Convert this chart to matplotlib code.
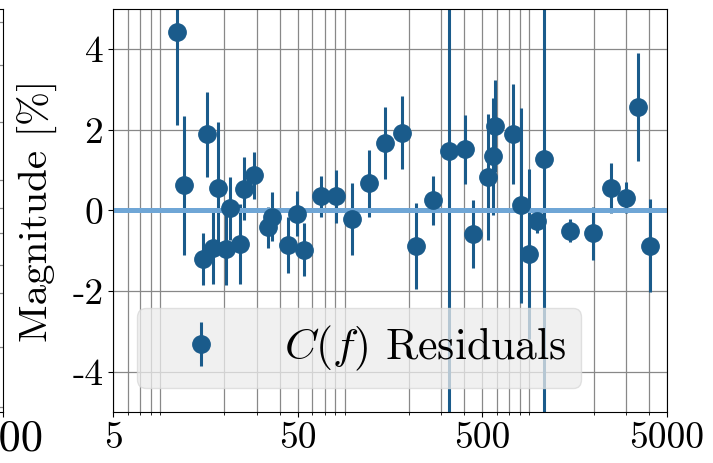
import matplotlib
matplotlib.use("Agg")
import matplotlib.pyplot as plt
from matplotlib.transforms import ScaledTranslation

plt.rcParams["font.family"] = "serif"
plt.rcParams["font.serif"] = ["cmr10", "DejaVu Serif"]
plt.rcParams["mathtext.fontset"] = "cm"
plt.rcParams["axes.unicode_minus"] = False
plt.rcParams["axes.formatter.use_mathtext"] = True

# Residual data (frequency, residual in %, 1-sigma error)
freq = [11.1, 12.1, 15.3, 16.2, 17.5, 18.4, 20.5, 21.5, 24.4, 25.6, 29.0,
        34.7, 36.1, 44.2, 49.8, 54.1, 66.6, 80.4, 98.1, 122, 149, 184, 219,
        269, 330, 403, 447, 538, 569, 587, 729, 807, 891, 993, 1083, 1493,
        1995, 2478, 3000, 3500, 4045]
resid = [4.42, 0.62, -1.21, 1.89, -0.92, 0.56, -0.96, 0.05, -0.83, 0.54,
         0.875, -0.42, -0.15, -0.85, -0.08, -0.97, 0.35, 0.35, -0.21, 0.67,
         1.68, 1.93, -0.88, 0.25, 1.48, 1.52, -0.59, 0.83, 1.34, 2.1, 1.9,
         0.125, -1.08, -0.25, 1.27, -0.5, -0.57, 0.56, 0.32, 2.57, -0.875]
err = [2.3, 1.73, 0.65, 1.05, 0.9, 1.63, 0.88, 0.78, 1.0, 0.78, 0.58, 0.5,
       0.6, 0.7, 0.56, 0.65, 0.5, 0.65, 0.9, 0.82, 0.9, 0.91, 1.06, 0.6, 9.0,
       0.86, 0.84, 1.56, 1.45, 1.15, 1.25, 2.42, 2.12, 0.3, 9.0, 0.28, 0.65,
       0.62, 0.38, 1.35, 1.15]

xticks = [5, 50, 500, 5000]
xticklabels = ["5", "50", "500", "5000"]
yticks = [-4, -2, 0, 2, 4]
yticklabels = ["-4", "-2", "0", "2", "4"]

# gridlines of the neighbouring (cropped) panel on the left
nb_yticks = [0.012, 0.161, 0.295, 0.365, 0.444, 0.506, 0.576, 0.72, 0.861, 0.968]

dark = "#1a5b8b"
light = "#6fa6d6"

fig = plt.figure(figsize=(7.13, 4.63), dpi=100)

# neighbouring panel, only its right edge is visible
nb = fig.add_axes([-0.8, 0.1102, 0.8042, 0.8704])
nb.set_xscale("log")
nb.set_xlim(5, 5000)
nb.set_ylim(0, 1)
nb.set_xticks(xticks)
nb.set_xticklabels(xticklabels, fontsize=32)
nb.tick_params(axis="x", pad=2)
shift = ScaledTranslation(-4 / 100, 0, fig.dpi_scale_trans)
for lab in nb.get_xticklabels():
    lab.set_transform(lab.get_transform() + shift)
nb.set_yticks(nb_yticks)
nb.set_yticklabels([])
nb.grid(axis="y", color="#888888", lw=0.9)

ax = fig.add_axes([0.1585, 0.1102, 0.777, 0.8704])
ax.set_xscale("log")
cont = ax.errorbar(freq, resid, yerr=err, fmt="o", color=dark, ms=12.5,
                   elinewidth=2.2, capsize=0, label=r"$C(f)$ Residuals",
                   zorder=2)
cont.lines[0].set_zorder(3)
ax.axhline(0, color=light, lw=3.6, zorder=2.5)

ax.set_xlim(5, 5000)
ax.set_ylim(-5, 5)
ax.set_xticks(xticks)
ax.set_xticklabels(xticklabels, fontsize=27)
ax.set_yticks(yticks)
ax.set_yticklabels(yticklabels, fontsize=27)
ax.set_ylabel(r"Magnitude [%]", fontsize=29.5, labelpad=10)
ax.grid(which="both", color="#888888", lw=0.9)

leg = ax.legend(loc="lower left", fontsize=31.5, handlelength=2.2,
                handletextpad=0.8, borderpad=0.35, borderaxespad=0.55,
                framealpha=0.75, facecolor="#ececec", edgecolor="#d8d8d8")

fig.savefig("out.png", dpi=100)
